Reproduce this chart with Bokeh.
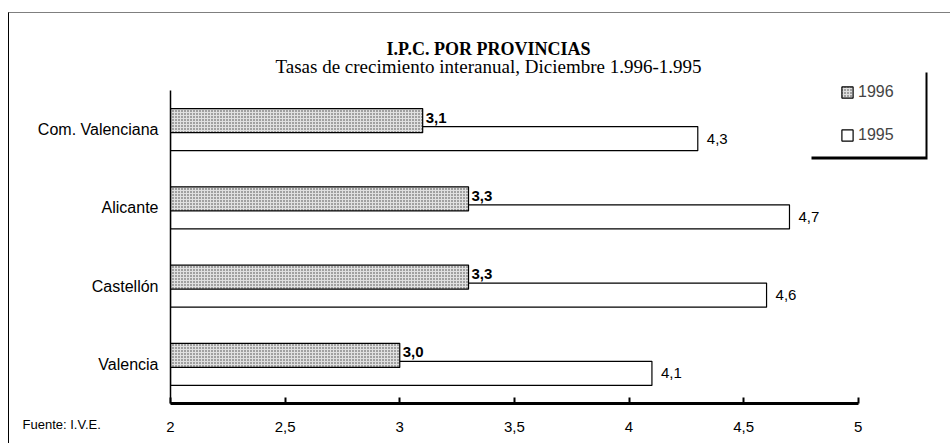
from bokeh.plotting import figure
from bokeh.models import (Range1d, FixedTicker, Legend, LegendItem, Title,
                          Label, BoxAnnotation, ColumnDataSource)
from bokeh.core.properties import value
from bokeh.embed import file_html
from bokeh.resources import INLINE

# ---- data ----
provinces = ["Com. Valenciana", "Alicante", "Castellón", "Valencia"]
v1996 = [3.1, 3.3, 3.3, 3.0]
v1995 = [4.3, 4.7, 4.6, 4.1]
tick_values = [2, 2.5, 3, 3.5, 4, 4.5, 5]
tick_labels = ["2", "2,5", "3", "3,5", "4", "4,5", "5"]
series_names = ["1996", "1995"]
title_text = "I.P.C. POR PROVINCIAS"
subtitle_text = "Tasas de crecimiento interanual, Diciembre 1.996-1.995"
source_text = "Fuente: I.V.E."

SANS = "Liberation Sans"
SERIF = "Liberation Serif"

def fmt(v):
    return f"{v:.1f}".replace(".", ",")

n = len(provinces)
cat_pos = [n - i - 0.5 for i in range(n)]      # category slots, top to bottom
OFF = 0.115                                     # half distance between the two bars
src = ColumnDataSource(dict(
    prov=provinces,
    y96=[c + OFF for c in cat_pos],
    y95=[c - OFF for c in cat_pos],
    v1996=v1996,
    v1995=v1995,
    t1996=[fmt(v) for v in v1996],
    t1995=[fmt(v) for v in v1995],
))

FRAME_H = 368
CAT_PX = 313 / n
p = figure(
    width=942, height=431,
    x_range=Range1d(2, 5.35),
    y_range=Range1d(0, FRAME_H / CAT_PX),
    output_backend="svg", toolbar_location=None,
    min_border_left=161, min_border_right=13, min_border_top=22, min_border_bottom=41,
)
p.styles = {"margin-left": "8px", "margin-top": "12px",
            "border-top": "1px solid #7f7f7f", "border-left": "1px solid #000000"}
p.outline_line_color = None
p.xgrid.visible = False
p.ygrid.visible = False
p.background_fill_color = "white"
p.border_fill_color = "white"

# bars
r95 = p.hbar(y="y95", left=2, right="v1995", height=0.307, source=src,
             fill_color="white", line_color="black", line_width=1.2)
r96 = p.hbar(y="y96", left=2, right="v1996", height=0.307, source=src,
             fill_color="#e0e0e0", hatch_pattern="dot", hatch_scale=3,
             hatch_color="#404040", hatch_weight=1,
             line_color="black", line_width=1.2)

# value labels
p.text(x="v1996", y="y96", text="t1996", source=src, x_offset=3, y_offset=-3,
       text_baseline="middle", text_align="left", text_font=value(SANS),
       text_font_style="bold", text_font_size="15px", text_color="black")
p.text(x="v1995", y="y95", text="t1995", source=src, x_offset=9, y_offset=0,
       text_baseline="middle", text_align="left", text_font=value(SANS),
       text_font_size="15px", text_color="black")

# x axis
xa = p.xaxis[0]
xa.ticker = FixedTicker(ticks=tick_values)
xa.major_label_overrides = {t: l for t, l in zip(tick_values, tick_labels)}
xa.bounds = (2, 5)
xa.axis_line_width = 3
xa.axis_line_color = "black"
xa.major_tick_in = 6
xa.major_tick_out = 0
xa.major_tick_line_width = 2
xa.major_tick_line_color = "black"
xa.minor_tick_line_color = None
xa.major_label_standoff = 18
xa.major_label_text_font = SANS
xa.major_label_text_font_size = "15px"
xa.major_label_text_color = "black"

# y axis (category slots)
ya = p.yaxis[0]
ya.ticker = FixedTicker(ticks=cat_pos)
ya.major_label_overrides = {c: name for c, name in zip(cat_pos, provinces)}
ya.bounds = (0, n)
ya.axis_line_width = 1.5
ya.axis_line_color = "black"
ya.major_tick_in = 0
ya.major_tick_out = 0
ya.minor_tick_line_color = None
ya.major_label_standoff = 12
ya.major_label_text_font = SANS
ya.major_label_text_font_size = "16px"
ya.major_label_text_color = "black"

# legend box with shadow
scr = dict(left_units="screen", right_units="screen",
           top_units="screen", bottom_units="screen")
p.add_layout(BoxAnnotation(left=641, right=757, top=331, bottom=244,
                           fill_color="black", fill_alpha=1.0, line_color=None, **scr))
p.add_layout(BoxAnnotation(left=639, right=755, top=333, bottom=247,
                           fill_color="white", fill_alpha=1.0, line_color=None, **scr))
legend = Legend(
    items=[LegendItem(label=series_names[0], renderers=[r96]),
           LegendItem(label=series_names[1], renderers=[r95])],
    location=(670, 258), orientation="vertical",
    glyph_width=14, glyph_height=14, label_standoff=4, label_height=20,
    spacing=23, padding=0, margin=0,
    label_text_font=SANS, label_text_font_size="16px",
    border_line_color=None, background_fill_alpha=0.0,
)
p.add_layout(legend)

# titles
p.add_layout(Label(x=318, y=355, x_units="screen", y_units="screen", text=title_text,
                   text_font=SERIF, text_font_style="bold", text_font_size="18px",
                   text_align="center", text_baseline="middle", text_color="black"))
p.add_layout(Label(x=318, y=337, x_units="screen", y_units="screen", text=subtitle_text,
                   text_font=SERIF, text_font_size="19px",
                   text_align="center", text_baseline="middle", text_color="black"))

# source note
p.add_layout(Title(text=source_text, align="left", offset=-148, standoff=-36,
                   vertical_align="top", text_font=SANS, text_font_size="13px",
                   text_font_style="normal", text_color="black"), "below")

open("out.html", "w").write(file_html(p, INLINE))
